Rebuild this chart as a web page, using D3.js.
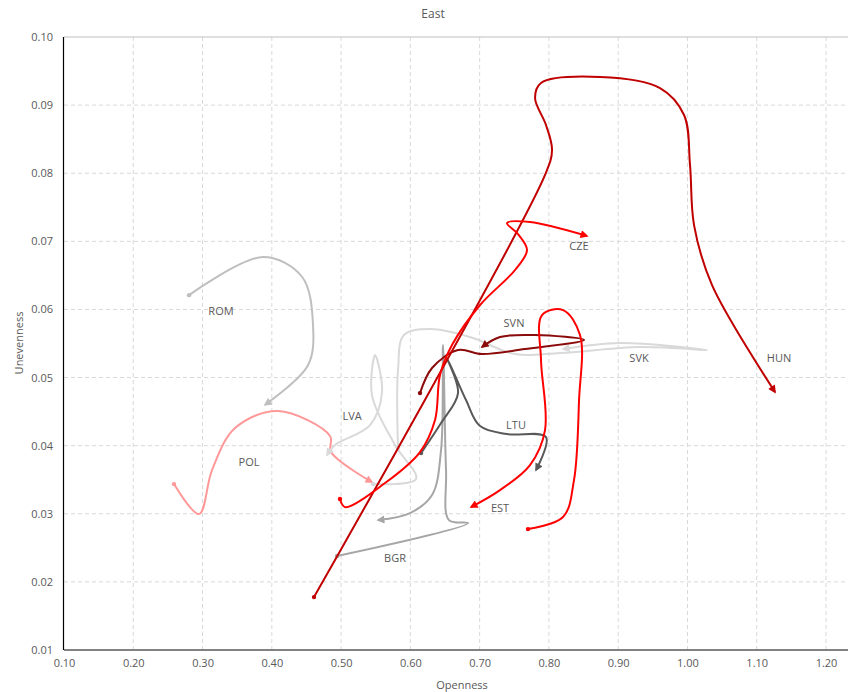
<!DOCTYPE html>
<html><head><meta charset="utf-8">
<script src="https://cdn.jsdelivr.net/npm/d3@7/dist/d3.min.js"></script>
<style>body{margin:0;background:#fff}text{font-family:"Open Sans","Liberation Sans",sans-serif}</style>
</head><body><svg id="c" width="849" height="692"></svg>
<script>
const xTicks = [0.10,0.20,0.30,0.40,0.50,0.60,0.70,0.80,0.90,1.00,1.10,1.20];
const yTicks = [0.01,0.02,0.03,0.04,0.05,0.06,0.07,0.08,0.09,0.10];

const romX = [0.2805,0.3873,0.4436,0.4595,0.4522,0.3902];
const romY = [0.0621,0.0677,0.0648,0.0577,0.0518,0.0460];
const polX = [0.2588,0.2949,0.3137,0.3469,0.4089,0.4840,0.4855,0.5446];
const polY = [0.03436,0.02996,0.03642,0.04258,0.04508,0.04141,0.03906,0.03465];
const lvaX = [0.5461,0.6082,0.5778,0.5446,0.5490,0.5591,0.5418,0.4912,0.4797];
const lvaY = [0.03436,0.03510,0.04009,0.04743,0.05330,0.04787,0.04303,0.04009,0.03862];
const svkX = [0.5822,0.5822,0.5908,0.6284,0.6861,0.7511,0.8160,0.9315,1.0283,0.9027,0.8204];
const svkY = [0.03965,0.05110,0.05624,0.05712,0.05595,0.05345,0.05360,0.05448,0.05404,0.05507,0.05419];
const bgrX = [0.4941,0.6832,0.6558,0.6515,0.6471,0.6443,0.6313,0.5995,0.5533];
const bgrY = [0.02379,0.02863,0.02907,0.03642,0.05477,0.03935,0.03275,0.03010,0.02907];
const ltuX = [0.6154,0.6443,0.6688,0.6529,0.6803,0.7006,0.7395,0.7958,0.7814];
const ltuY = [0.03891,0.04332,0.04772,0.05286,0.04670,0.04288,0.04170,0.04126,0.03642];
const svnX = [0.6139,0.6313,0.6688,0.7034,0.7655,0.8507,0.7800,0.7294,0.7034];
const svnY = [0.04772,0.05140,0.05404,0.05345,0.05419,0.05551,0.05624,0.05595,0.05448];
const hunX = [0.4609,0.7944,0.8045,0.7958,0.7800,0.7886,0.8738,0.9604,0.9951,1.0037,1.0095,1.0355,1.1264];
const hunY = [0.01777,0.07974,0.08341,0.08708,0.09104,0.09325,0.09413,0.09251,0.08855,0.08120,0.07239,0.06358,0.04787];
const czeX = [0.4984,0.5057,0.5634,0.6139,0.6356,0.6428,0.6601,0.7006,0.7511,0.7684,0.7554,0.7395,0.7727,0.8550];
const czeY = [0.03216,0.03098,0.03451,0.03906,0.04376,0.05037,0.05477,0.06065,0.06579,0.06872,0.07107,0.07269,0.07283,0.07078];
const estX = [0.7698,0.8204,0.8362,0.8435,0.8449,0.8204,0.7901,0.7886,0.7944,0.7727,0.7294,0.6876];
const estY = [0.02775,0.02952,0.03495,0.04670,0.05624,0.05991,0.05918,0.05257,0.04229,0.03715,0.03348,0.03098];

const names = ["ROM","POL","LVA","SVK","BGR","LTU","SVN","HUN","CZE","EST"];
const xs = [romX,polX,lvaX,svkX,bgrX,ltuX,svnX,hunX,czeX,estX];
const ys = [romY,polY,lvaY,svkY,bgrY,ltuY,svnY,hunY,czeY,estY];
const labelX = [0.3266,0.3671,0.5158,0.9301,0.5778,0.7525,0.7496,1.1322,0.8435,0.7294];
const labelY = [0.05977,0.03759,0.04435,0.05286,0.02349,0.04302,0.05800,0.05286,0.06931,0.03084];
const colors = ["#bfbfbf","#ff9999","#d9d9d9","#d9d9d9","#a6a6a6","#595959","#8b0a0a","#c00000","#ff0000","#ff0000"];

const svg = d3.select("#c");
const x = d3.scaleLinear().domain([0.10,1.20]).range([64,826]);
const y = d3.scaleLinear().domain([0.01,0.10]).range([650,37]);
const right = 848;

// gridlines
svg.append("g").selectAll("line").data(xTicks.slice(1)).join("line")
  .attr("x1",d=>x(d)).attr("x2",d=>x(d)).attr("y1",y(0.10)).attr("y2",y(0.01))
  .attr("stroke","#d9d9d9").attr("stroke-dasharray","4,3").attr("stroke-width",1);
svg.append("g").selectAll("line").data(yTicks.slice(1,-1)).join("line")
  .attr("x1",64).attr("x2",right).attr("y1",d=>y(d)).attr("y2",d=>y(d))
  .attr("stroke","#d9d9d9").attr("stroke-dasharray","4,3").attr("stroke-width",1);
svg.append("line").attr("x1",64).attr("x2",right).attr("y1",y(0.10)).attr("y2",y(0.10))
  .attr("stroke","#bfbfbf").attr("stroke-width",1);

// axes
const xAxis = d3.axisBottom(x).tickValues(xTicks).tickFormat(d3.format(".2f")).tickSize(0).tickPadding(9);
const gx = svg.append("g").attr("transform",`translate(0,${y(0.01)})`).call(xAxis);
gx.select(".domain").remove();
gx.selectAll("text").attr("fill","#595959").style("font-size","11px");
svg.append("line").attr("x1",64).attr("x2",right).attr("y1",y(0.01)).attr("y2",y(0.01))
  .attr("stroke","#595959").attr("stroke-width",1.5);

const yAxis = d3.axisLeft(y).tickValues(yTicks).tickFormat(d3.format(".2f")).tickSize(0).tickPadding(11);
const gy = svg.append("g").attr("transform",`translate(64,0)`).call(yAxis);
gy.select(".domain").remove();
gy.selectAll("text").attr("fill","#595959").style("font-size","11px");
svg.append("line").attr("x1",63.5).attr("x2",63.5).attr("y1",y(0.10)).attr("y2",y(0.01))
  .attr("stroke","#000").attr("stroke-width",1.2);

// titles
svg.append("text").attr("x",433).attr("y",18).attr("text-anchor","middle")
  .attr("fill","#595959").style("font-size","12px").text("East");
svg.append("text").attr("x",462).attr("y",689).attr("text-anchor","middle")
  .attr("fill","#595959").style("font-size","11px").text("Openness");
svg.append("text").attr("transform","translate(23,343) rotate(-90)").attr("text-anchor","middle")
  .attr("fill","#595959").style("font-size","11px").text("Unevenness");

// markers
const defs = svg.append("defs");
colors.forEach((c,i)=>{
  defs.append("marker").attr("id","arr"+i).attr("viewBox","0 0 10 10")
    .attr("refX",8).attr("refY",5).attr("markerWidth",4.5).attr("markerHeight",4)
    .attr("orient","auto").attr("markerUnits","strokeWidth")
    .append("path").attr("d","M0,0 L10,5 L0,10 z").attr("fill",c);
});

const line = d3.line().x(d=>x(d[0])).y(d=>y(d[1])).curve(d3.curveCatmullRom.alpha(0.5));
const g = svg.append("g");
names.forEach((n,i)=>{
  const pts = xs[i].map((v,j)=>[v,ys[i][j]]);
  g.append("path").attr("d",line(pts)).attr("fill","none").attr("stroke",colors[i])
    .attr("stroke-width",2).attr("marker-end",`url(#arr${i})`);
  g.append("circle").attr("cx",x(pts[0][0])).attr("cy",y(pts[0][1])).attr("r",2.2).attr("fill",colors[i]);
});
svg.append("g").selectAll("text").data(names).join("text")
  .attr("x",(d,i)=>x(labelX[i])).attr("y",(d,i)=>y(labelY[i])).attr("dy","0.35em")
  .attr("text-anchor","middle").attr("fill","#595959").style("font-size","11px").text(d=>d);
</script></body></html>
